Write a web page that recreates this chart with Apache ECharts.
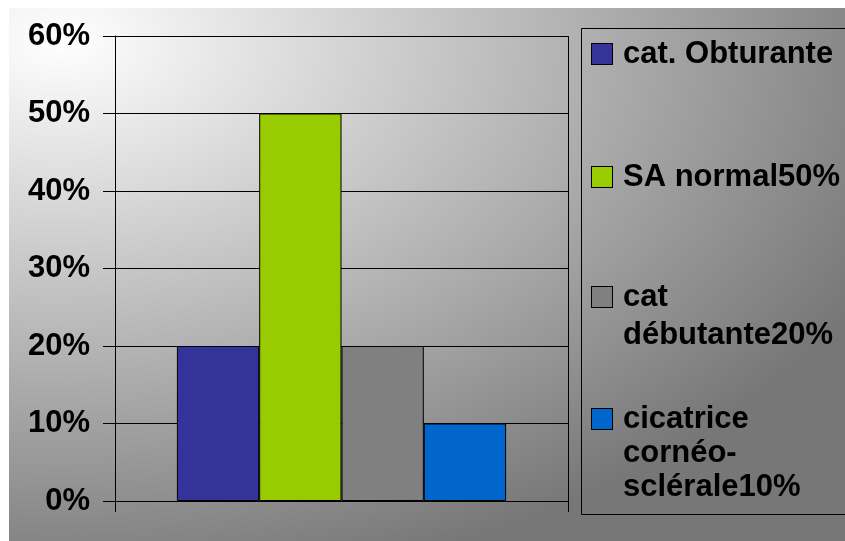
<!DOCTYPE html>
<html>
<head>
<meta charset="utf-8">
<script src="https://cdn.jsdelivr.net/npm/echarts@6/dist/echarts.min.js"></script>
<style>
  html, body { margin: 0; padding: 0; background: #fff; }
  #bg {
    position: absolute; left: 9px; top: 8px; width: 836px; height: 533px;
    background: radial-gradient(ellipse 900px 560px at 51px 32px, #ffffff 0%, #777777 100%);
  }
  #chart { position: absolute; left: 0; top: 0; width: 845px; height: 541px; }
</style>
</head>
<body>
<div id="bg"></div>
<div id="chart"></div>
<script>
// Single category group with four adjacent bars
const categories = [''];
const seriesNames = ['cat. Obturante', 'SA normal50%', 'cat débutante20%', 'cicatrice cornéo-sclérale10%'];
const seriesValues = [20, 50, 20, 10];
const legendLines = [
  ['cat. Obturante'],
  ['SA normal50%'],
  ['cat', 'débutante20%'],
  ['cicatrice', 'cornéo-', 'sclérale10%']
];
const yTicks = [0, 10, 20, 30, 40, 50, 60];

const colors = ['#333399', '#99CC00', '#808080', '#0066CC'];
const legendTops = [35, 158, 278, 402];
const legendLineHeights = [38, 38, 38, 34];
const FONT = '"Liberation Sans", Arial, sans-serif';

const chart = echarts.init(document.getElementById('chart'), null, { renderer: 'canvas' });

const boxRich = {};
colors.forEach((c, i) => {
  boxRich['b' + i] = { width: 20, height: 20, backgroundColor: c, borderColor: '#000', borderWidth: 1, verticalAlign: 'middle' };
});

const legends = legendLines.map((lines, i) => ({
  left: 587,
  top: legendTops[i],
  orient: 'vertical',
  padding: 0,
  itemWidth: 0,
  itemHeight: 0,
  itemStyle: { opacity: 0, borderWidth: 0 },
  selectedMode: false,
  data: [seriesNames[i]],
  formatter: () => lines.map((ln, k) => (k === 0 ? '{b' + i + '|}{g|}' : '{p|}') + '{t|' + ln + '}').join('\n'),
  textStyle: {
    fontSize: 31, fontWeight: 'bold', fontFamily: FONT, color: '#000',
    lineHeight: legendLineHeights[i],
    rich: Object.assign({
      t: { fontSize: 31, fontWeight: 'bold', fontFamily: FONT, color: '#000', lineHeight: legendLineHeights[i], verticalAlign: 'middle' },
      g: { width: 11, lineHeight: legendLineHeights[i] },
      p: { width: 31, lineHeight: legendLineHeights[i] }
    }, boxRich)
  }
}));

chart.setOption({
  animation: false,
  backgroundColor: 'transparent',
  grid: { left: 115, right: 277, top: 36, bottom: 40, containLabel: false },
  legend: legends,
  graphic: [{
    type: 'rect',
    silent: true,
    shape: { x: 581.5, y: 28.5, width: 320, height: 486 },
    style: { fill: 'none', stroke: '#000', lineWidth: 1 }
  }],
  xAxis: {
    type: 'category',
    data: categories,
    axisLine: { lineStyle: { color: '#000', width: 1 } },
    axisTick: { show: true, length: 11, lineStyle: { color: '#000', width: 1 } },
    axisLabel: { show: false },
    splitLine: { show: true, lineStyle: { color: '#000', width: 1 } }
  },
  yAxis: {
    type: 'value',
    min: yTicks[0],
    max: yTicks[yTicks.length - 1],
    interval: yTicks[1] - yTicks[0],
    axisLine: { show: true, lineStyle: { color: '#000', width: 1 } },
    axisTick: { show: true, length: 12, lineStyle: { color: '#000', width: 1 } },
    axisLabel: {
      formatter: '{value}%', margin: 25,
      fontSize: 31, fontWeight: 'bold', fontFamily: FONT, color: '#000'
    },
    splitLine: { show: true, lineStyle: { color: '#000', width: 1 } }
  },
  series: seriesNames.map((name, i) => ({
    name: name,
    type: 'bar',
    data: [seriesValues[i]],
    barWidth: 82.3,
    barGap: '0%',
    itemStyle: { color: colors[i], borderColor: '#000', borderWidth: 1 }
  }))
});
</script>
</body>
</html>
